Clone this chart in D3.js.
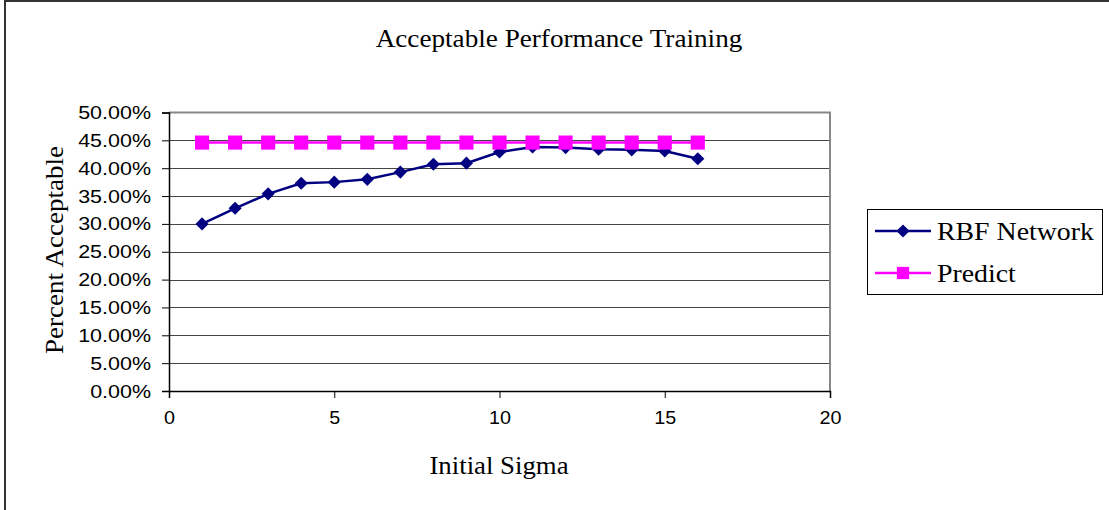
<!DOCTYPE html>
<html>
<head>
<meta charset="utf-8">
<script src="https://cdn.jsdelivr.net/npm/d3@7"></script>
<style>
  html, body { margin: 0; padding: 0; background: #fff; }
  svg { display: block; }
</style>
</head>
<body>
<svg id="chart" width="1109" height="510"></svg>
<script>
// Initial sigma values (x) and percent acceptable for each series
const sigma = [1, 2, 3, 4, 5, 6, 7, 8, 9, 10, 11, 12, 13, 14, 15, 16];
const rbfNetwork = [30.0, 32.8, 35.4, 37.3, 37.5, 38.0, 39.3, 40.7, 40.9, 42.9, 43.8, 43.7, 43.4, 43.3, 43.1, 41.7];
const predict = [44.6, 44.6, 44.6, 44.6, 44.6, 44.6, 44.6, 44.6, 44.6, 44.6, 44.6, 44.6, 44.6, 44.6, 44.6, 44.6];
const xTicks = [0, 5, 10, 15, 20];
const yTicks = [0, 5, 10, 15, 20, 25, 30, 35, 40, 45, 50];
const seriesNames = ["RBF Network", "Predict"];

const svg = d3.select("#chart");
const plot = { left: 169, right: 830, top: 112.5, bottom: 391 };

const x = d3.scaleLinear().domain([0, 20]).range([plot.left, plot.right]);
const y = d3.scaleLinear().domain([0, 50]).range([plot.bottom, plot.top]);

const serif = "'Liberation Serif', 'Times New Roman', serif";
const sans = "'Liberation Sans', Arial, sans-serif";

// Widen text horizontally by a factor (the chart's fonts are slightly stretched)
function stretch(sel, factor) {
  sel.each(function () {
    const w = this.getComputedTextLength();
    d3.select(this).attr("textLength", w * factor).attr("lengthAdjust", "spacingAndGlyphs");
  });
}

// Outer chart frame
svg.append("rect")
  .attr("x", 5).attr("y", 1).attr("width", 1200).attr("height", 600)
  .attr("fill", "none").attr("stroke", "#333").attr("stroke-width", 2);

// Title
svg.append("text")
  .attr("x", 559).attr("y", 47)
  .attr("text-anchor", "middle")
  .style("font-family", serif).style("font-size", "26px")
  .text("Acceptable Performance Training")
  .call(stretch, 1.045);

// Horizontal gridlines
svg.append("g").selectAll("line")
  .data(yTicks.filter(v => v > 0 && v < 50))
  .join("line")
  .attr("x1", plot.left).attr("x2", plot.right)
  .attr("y1", d => Math.round(y(d)) + 0.5).attr("y2", d => Math.round(y(d)) + 0.5)
  .attr("stroke", "#444").attr("stroke-width", 1);

// Plot border (top and right in grey)
svg.append("path")
  .attr("d", `M${plot.left},${plot.top}H${plot.right}V${plot.bottom}`)
  .attr("fill", "none").attr("stroke", "#888").attr("stroke-width", 2);

// Y axis
const yAxis = d3.axisLeft(y).tickValues(yTicks).tickSize(7).tickPadding(11)
  .tickFormat(d => d.toFixed(2) + "%");
const gy = svg.append("g").attr("transform", `translate(${plot.left},0)`).call(yAxis);
gy.select(".domain").attr("stroke", "#000").attr("stroke-width", 1.5);
gy.selectAll(".tick line").attr("stroke", "#000");
gy.selectAll(".tick text")
  .style("font-family", sans).style("font-size", "19px").attr("fill", "#000")
  .call(stretch, 1.13);

// X axis
const xAxis = d3.axisBottom(x).tickValues(xTicks).tickSize(7).tickPadding(13);
const gx = svg.append("g").attr("transform", `translate(0,${plot.bottom})`).call(xAxis);
gx.select(".domain").attr("stroke", "#000").attr("stroke-width", 1.5);
gx.selectAll(".tick line").attr("stroke", "#000");
gx.selectAll(".tick text")
  .style("font-family", sans).style("font-size", "19px").attr("fill", "#000")
  .call(stretch, 1.04);

// Axis titles
svg.append("text")
  .attr("x", 499).attr("y", 474)
  .attr("text-anchor", "middle")
  .style("font-family", serif).style("font-size", "26px")
  .text("Initial Sigma")
  .call(stretch, 1.03);

svg.append("text")
  .attr("transform", "translate(63,250) rotate(-90)")
  .attr("text-anchor", "middle")
  .style("font-family", serif).style("font-size", "26px")
  .text("Percent Acceptable")
  .call(stretch, 1.04);

// Series
const line = d3.line().x((d, i) => x(sigma[i])).y(d => y(d));
const diamond = d3.symbol().type(d3.symbolDiamond2).size(110);
const square = d3.symbol().type(d3.symbolSquare).size(200);

svg.append("path").datum(rbfNetwork)
  .attr("d", line).attr("fill", "none")
  .attr("stroke", "#000080").attr("stroke-width", 2.5);
svg.append("g").selectAll("path").data(rbfNetwork).join("path")
  .attr("transform", (d, i) => `translate(${x(sigma[i])},${y(d)})`)
  .attr("d", diamond).attr("fill", "#000080");

svg.append("path").datum(predict)
  .attr("d", line).attr("fill", "none")
  .attr("stroke", "#FF00FF").attr("stroke-width", 2.5);
svg.append("g").selectAll("path").data(predict).join("path")
  .attr("transform", (d, i) => `translate(${x(sigma[i])},${y(d)})`)
  .attr("d", square).attr("fill", "#FF00FF");

// Legend
const legend = svg.append("g");
legend.append("rect")
  .attr("x", 867.5).attr("y", 209.5).attr("width", 235).attr("height", 85)
  .attr("fill", "#fff").attr("stroke", "#000").attr("stroke-width", 1);

const legendItems = [
  { name: seriesNames[0], color: "#000080", sym: diamond, cy: 231 },
  { name: seriesNames[1], color: "#FF00FF", sym: d3.symbol().type(d3.symbolSquare).size(150), cy: 273 }
];
legendItems.forEach(it => {
  legend.append("line")
    .attr("x1", 875).attr("x2", 931).attr("y1", it.cy).attr("y2", it.cy)
    .attr("stroke", it.color).attr("stroke-width", 2.5);
  legend.append("path")
    .attr("transform", `translate(903,${it.cy})`)
    .attr("d", it.sym).attr("fill", it.color);
  legend.append("text")
    .attr("x", 937).attr("y", it.cy + 9)
    .style("font-family", serif).style("font-size", "26px")
    .text(it.name)
    .call(stretch, 1.07);
});
</script>
</body>
</html>
